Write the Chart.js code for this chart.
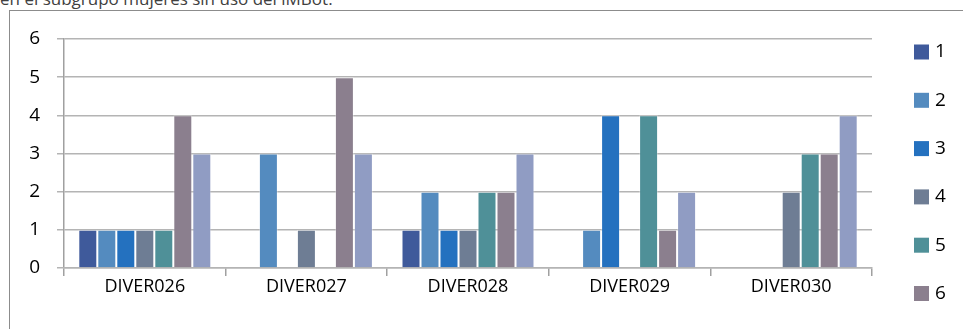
<!DOCTYPE html>
<html>
<head>
<meta charset="utf-8">
<script src="https://cdn.jsdelivr.net/npm/chart.js@4.4.0/dist/chart.umd.min.js"></script>
<style>
  html, body { margin: 0; padding: 0; background: #fff; overflow: hidden; }
  #wrap { position: relative; width: 963px; height: 329px; overflow: hidden; }
  #caption {
    position: absolute; left: 0; top: -10px; white-space: nowrap;
    font-family: "Open Sans", sans-serif; font-size: 17px; line-height: 17px; color: #404040;
  }
  #frame {
    position: absolute; left: 9px; top: 10px; width: 1000px; height: 400px;
    border: 1px solid #8c8c8c;
  }
  #grafico { position: absolute; left: 0; top: 0; }
</style>
</head>
<body>
<div id="wrap">
  <div id="caption">en el subgrupo mujeres sin uso del iMBot.</div>
  <div id="frame"></div>
  <canvas id="grafico" width="963" height="329"></canvas>
</div>
<script>
const categorias = ['DIVER026', 'DIVER027', 'DIVER028', 'DIVER029', 'DIVER030'];
const series = ['1', '2', '3', '4', '5', '6', '7'];

const serie1 = [1, 0, 1, 0, 0];
const serie2 = [1, 3, 2, 1, 0];
const serie3 = [1, 0, 1, 4, 0];
const serie4 = [1, 1, 1, 0, 2];
const serie5 = [1, 0, 2, 4, 3];
const serie6 = [4, 5, 2, 1, 3];
const serie7 = [3, 3, 3, 2, 4];

const colores = ['#3f5a9b', '#548bbf', '#2471bf', '#6e7d94', '#4f9098', '#8b7f8e', '#909cc3'];
const valores = [serie1, serie2, serie3, serie4, serie5, serie6, serie7];

// leyenda a la derecha, un cuadro por serie
const leyenda = {
  id: 'leyenda',
  afterDraw(chart) {
    const ctx = chart.ctx;
    ctx.save();
    ctx.font = '19px "Open Sans"';
    ctx.textBaseline = 'middle';
    chart.data.datasets.forEach((ds, i) => {
      const y = 52 + i * 48.3;
      ctx.fillStyle = ds.backgroundColor;
      ctx.fillRect(914, y - 7.5, 15, 15);
      ctx.fillStyle = '#000';
      ctx.fillText(ds.label, 935, y);
    });
    ctx.restore();
  }
};

new Chart(document.getElementById('grafico'), {
  type: 'bar',
  data: {
    labels: categorias,
    datasets: series.map((s, i) => ({
      label: s,
      data: valores[i],
      backgroundColor: colores[i],
      borderColor: 'rgba(255,255,255,0.35)',
      borderWidth: 1,
      categoryPercentage: 0.823,
      barPercentage: 1
    }))
  },
  options: {
    animation: false,
    responsive: false,
    devicePixelRatio: 1,
    layout: { padding: { top: 39, right: 91, left: 0, bottom: 0 } },
    plugins: {
      legend: { display: false },
      tooltip: { enabled: false }
    },
    scales: {
      y: {
        min: 0,
        max: 6,
        ticks: { stepSize: 1, padding: 17, color: '#000', font: { family: 'Open Sans', size: 19 } },
        grid: { color: '#b4b4b4', lineWidth: 1.5, tickLength: 7 },
        border: { color: '#a0a0a0', width: 1.5 },
        afterFit: (s) => { s.width = 64; }
      },
      x: {
        offset: true,
        ticks: { padding: 0, color: '#000', font: { family: 'Open Sans', size: 18 } },
        grid: { drawOnChartArea: false, color: '#a0a0a0', lineWidth: 1.5, tickLength: 8, offset: true },
        border: { color: '#b4b4b4', width: 1.5 },
        afterFit: (s) => { s.height = 61; }
      }
    }
  },
  plugins: [leyenda]
});
</script>
</body>
</html>
